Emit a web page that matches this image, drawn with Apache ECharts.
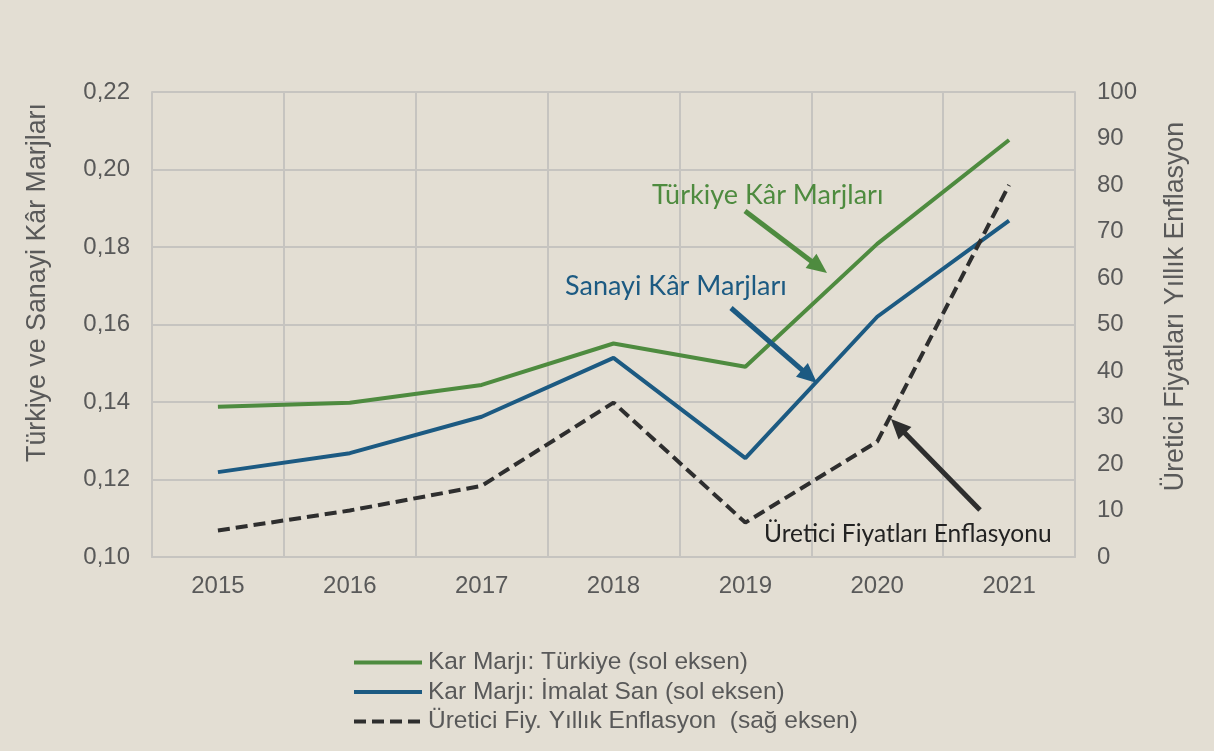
<!DOCTYPE html>
<html>
<head>
<meta charset="utf-8">
<script src="https://cdn.jsdelivr.net/npm/echarts@6/dist/echarts.min.js"></script>
<style>
  html, body { margin: 0; padding: 0; background: #E3DED3; }
  #chart { width: 1214px; height: 751px; }
</style>
</head>
<body>
<div id="chart"></div>
<script>
// Yearly profit margins (left axis) and producer price inflation (right axis)
const years = ['2015', '2016', '2017', '2018', '2019', '2020', '2021'];
const marginTurkey = [0.1388, 0.1398, 0.1444, 0.1551, 0.1491, 0.1808, 0.2076];
const marginManufacturing = [0.1219, 0.1268, 0.1362, 0.1514, 0.1255, 0.1620, 0.1868];
const producerInflation = [5.7, 10.0, 15.3, 33.2, 7.4, 24.8, 80.0];

const seriesNames = [
  'Kar Marjı: Türkiye (sol eksen)',
  'Kar Marjı: İmalat San (sol eksen)',
  'Üretici Fiy. Yıllık Enflasyon  (sağ eksen)'
];

const GREEN = '#4E8B3F';
const BLUE = '#1C5A82';
const DARK = '#2E2E2E';
const TEXT = '#595959';
const GRID = '#C6C4C0';
const FONT = '"Liberation Sans", Arial, sans-serif';
const NOTE_FONT = 'Lato, "Open Sans", sans-serif';

// Straight arrow: shaft plus a filled triangular head at (x2, y2)
function arrow(x1, y1, x2, y2, color) {
  const dx = x2 - x1, dy = y2 - y1;
  const len = Math.sqrt(dx * dx + dy * dy);
  const ux = dx / len, uy = dy / len;
  const headLen = 20, headHalf = 9;
  const bx = x2 - ux * headLen, by = y2 - uy * headLen;
  return [
    {
      type: 'line',
      shape: { x1: x1, y1: y1, x2: bx + ux * 2, y2: by + uy * 2 },
      style: { stroke: color, lineWidth: 5 },
      z: 10
    },
    {
      type: 'polygon',
      shape: {
        points: [
          [x2, y2],
          [bx - uy * headHalf, by + ux * headHalf],
          [bx + uy * headHalf, by - ux * headHalf]
        ]
      },
      style: { fill: color },
      z: 10
    }
  ];
}

const chart = echarts.init(document.getElementById('chart'));

chart.setOption({
  backgroundColor: '#E3DED3',
  animation: false,
  textStyle: { fontFamily: FONT },
  grid: { left: 152, right: 139, top: 92, bottom: 194 },
  legend: {
    orient: 'vertical',
    left: 352,
    top: 650,
    padding: 0,
    itemWidth: 68,
    itemHeight: 14,
    itemGap: 4.5,
    itemStyle: { opacity: 0 },
    lineStyle: { width: 4 },
    textStyle: { fontFamily: FONT, fontSize: 24.5, color: TEXT, padding: [0, 0, 0, 1] },
    data: seriesNames
  },
  xAxis: {
    type: 'category',
    data: years,
    boundaryGap: true,
    axisLine: { show: true, lineStyle: { color: GRID, width: 2 } },
    axisTick: { show: false },
    axisLabel: { color: TEXT, fontSize: 24, margin: 17, fontFamily: FONT },
    splitLine: { show: true, interval: 0, lineStyle: { color: GRID, width: 2 } }
  },
  yAxis: [
    {
      type: 'value',
      min: 0.10,
      max: 0.22,
      interval: 0.02,
      position: 'left',
      name: 'Türkiye ve Sanayi Kâr Marjları',
      nameLocation: 'middle',
      nameRotate: 90,
      nameGap: 101,
      nameTextStyle: { color: TEXT, fontSize: 26.8, fontFamily: FONT, padding: [0, 0, 0, 84] },
      axisLine: { show: true, lineStyle: { color: GRID, width: 2 } },
      axisTick: { show: false },
      axisLabel: {
        color: TEXT, fontSize: 24, margin: 22, fontFamily: FONT,
        formatter: v => v.toFixed(2).replace('.', ',')
      },
      splitLine: { show: true, lineStyle: { color: GRID, width: 2 } }
    },
    {
      type: 'value',
      min: 0,
      max: 100,
      interval: 10,
      position: 'right',
      name: 'Üretici Fiyatları Yıllık Enflasyon',
      nameLocation: 'middle',
      nameRotate: 90,
      nameGap: 87,
      nameTextStyle: { color: TEXT, fontSize: 26.8, fontFamily: FONT, padding: [0, 0, 0, 36] },
      axisLine: { show: true, lineStyle: { color: GRID, width: 2 } },
      axisTick: { show: false },
      axisLabel: { color: TEXT, fontSize: 24, margin: 22, fontFamily: FONT },
      splitLine: { show: false }
    }
  ],
  series: [
    {
      name: seriesNames[0],
      type: 'line',
      yAxisIndex: 0,
      data: marginTurkey,
      symbol: 'none',
      lineStyle: { color: GREEN, width: 4 },
      itemStyle: { color: GREEN },
      z: 3
    },
    {
      name: seriesNames[1],
      type: 'line',
      yAxisIndex: 0,
      data: marginManufacturing,
      symbol: 'none',
      lineStyle: { color: BLUE, width: 4 },
      itemStyle: { color: BLUE },
      z: 3
    },
    {
      name: seriesNames[2],
      type: 'line',
      yAxisIndex: 1,
      data: producerInflation,
      symbol: 'none',
      lineStyle: { color: DARK, width: 4, type: [12, 6] },
      itemStyle: { color: DARK },
      z: 4
    }
  ],
  graphic: [
    {
      type: 'text',
      x: 652,
      y: 195,
      style: {
        text: 'Türkiye Kâr Marjları', fill: GREEN,
        font: '27px ' + NOTE_FONT, verticalAlign: 'middle'
      },
      z: 10
    },
    {
      type: 'text',
      x: 565,
      y: 286,
      style: {
        text: 'Sanayi Kâr Marjları', fill: BLUE,
        font: '27px ' + NOTE_FONT, verticalAlign: 'middle'
      },
      z: 10
    },
    {
      type: 'text',
      x: 764,
      y: 534,
      style: {
        text: 'Üretici Fiyatları Enflasyonu', fill: '#222',
        font: '24.5px ' + NOTE_FONT, verticalAlign: 'middle'
      },
      z: 10
    },
    ...arrow(745, 211, 827, 273, GREEN),
    ...arrow(731, 308, 817, 383, BLUE),
    ...arrow(980, 510, 891, 419, DARK)
  ]
});
</script>
</body>
</html>
